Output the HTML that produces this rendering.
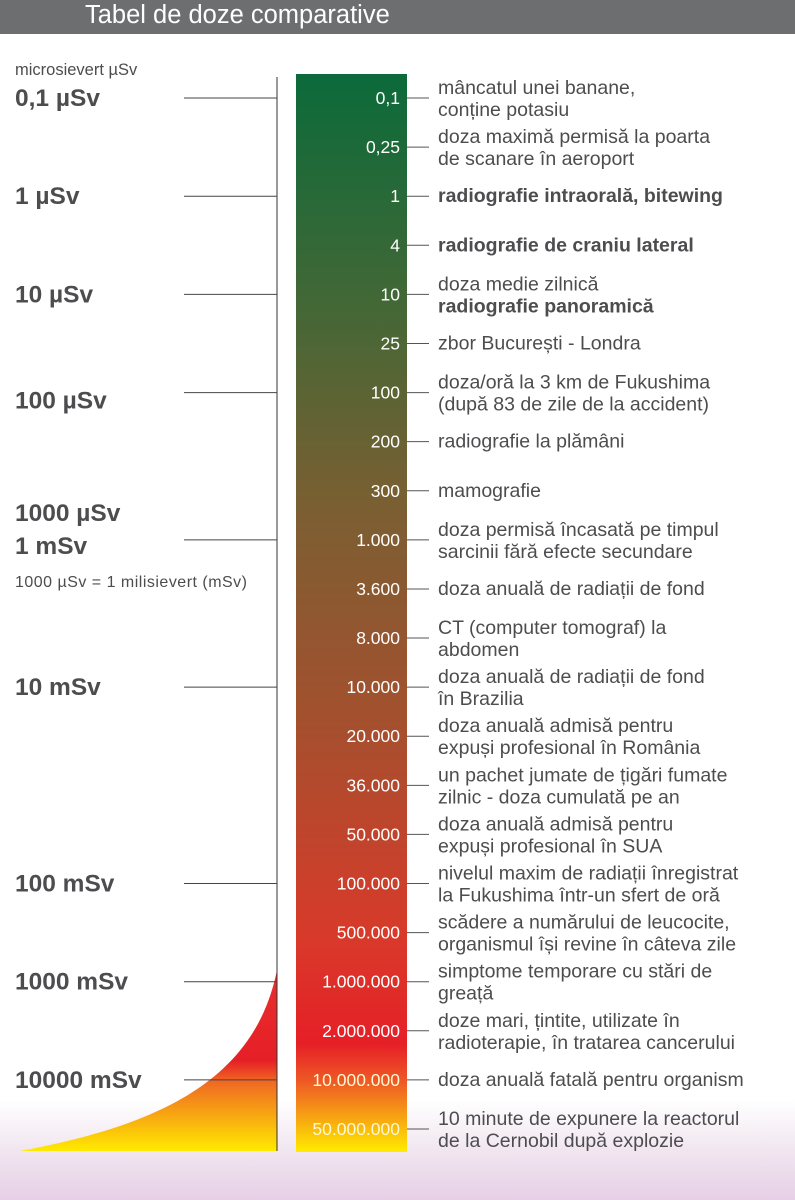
<!DOCTYPE html>
<html><head><meta charset="utf-8"><style>
body{margin:0;width:795px;height:1200px;overflow:hidden;background:#fff;font-family:"Liberation Sans",sans-serif;position:relative}
#bg{position:absolute;left:0;top:0;width:795px;height:1200px;background:linear-gradient(180deg,#fff 0,#fff 1100px,#f1e6f0 1150px,#e6d0e6 1200px)}
#hdr{position:absolute;left:0;top:0;width:795px;height:34px;background:#6d6e70}
#hdr span{position:absolute;left:85px;top:1px;color:#fff;font-size:25.5px}
</style></head><body>
<div id="bg"></div>
<div id="hdr"><span>Tabel de doze comparative</span></div>
<svg id="c" width="795" height="1200" style="position:absolute;left:0;top:0">
<defs>
<linearGradient id="bar" x1="0" y1="0" x2="0" y2="1">
<stop offset="0" stop-color="#0b6a3a"/><stop offset="0.2" stop-color="#3f6836"/>
<stop offset="0.4" stop-color="#7a5f32"/><stop offset="0.6" stop-color="#a4502e"/>
<stop offset="0.8" stop-color="#d83a2a"/><stop offset="0.9" stop-color="#e61f27"/>
<stop offset="0.935" stop-color="#ee5a25"/><stop offset="1" stop-color="#ffec00"/></linearGradient>
<linearGradient id="curve" x1="0" y1="0" x2="0" y2="1">
<stop offset="0" stop-color="#e8302c"/><stop offset="0.5" stop-color="#e61f27"/>
<stop offset="0.62" stop-color="#f06a22"/><stop offset="1" stop-color="#ffea00"/></linearGradient>
</defs>
<path d="M20 1151 C160 1125 255 1080 277 970 L277 1151 Z" fill="url(#curve)"/>
<rect x="296" y="74" width="111" height="1078" fill="url(#bar)"/>
<line x1="277" y1="77" x2="277" y2="1151" stroke="#333" stroke-width="1"/>
<g id="rows"></g>
<text x="15" y="75" font-size="16.5" fill="#4d4d4f">microsievert µSv</text>
<text x="15" y="587" font-size="16" fill="#4d4d4f" textLength="232">1000 µSv = 1 milisievert (mSv)</text>
<text x="15" y="521" font-size="24.5" font-weight="bold" fill="#4d4d4f">1000 µSv</text>
</svg>
<script>
const values=["0,1","0,25","1","4","10","25","100","200","300","1.000","3.600","8.000","10.000","20.000","36.000","50.000","100.000","500.000","1.000.000","2.000.000","10.000.000","50.000.000"];
const desc=[["mâncatul unei banane,","conține potasiu"],["doza maximă permisă la poarta","de scanare în aeroport"],["radiografie intraorală, bitewing"],["radiografie de craniu lateral"],["doza medie zilnică","radiografie panoramică"],["zbor București - Londra"],["doza/oră la 3 km de Fukushima","(după 83 de zile de la accident)"],["radiografie la plămâni"],["mamografie"],["doza permisă încasată pe timpul","sarcinii fără efecte secundare"],["doza anuală de radiații de fond"],["CT (computer tomograf) la","abdomen"],["doza anuală de radiații de fond","în Brazilia"],["doza anuală admisă pentru","expuși profesional în România"],["un pachet jumate de țigări fumate","zilnic - doza cumulată pe an"],["doza anuală admisă pentru","expuși profesional în SUA"],["nivelul maxim de radiații înregistrat","la Fukushima într-un sfert de oră"],["scădere a numărului de leucocite,","organismul își revine în câteva zile"],["simptome temporare cu stări de","greață"],["doze mari, țintite, utilizate în","radioterapie, în tratarea cancerului"],["doza anuală fatală pentru organism"],["10 minute de expunere la reactorul","de la Cernobil după explozie"]];
const boldLines=[[2,0],[3,0],[4,1]];
const leftLabels=["0,1 µSv","1 µSv","10 µSv","100 µSv","1 mSv","10 mSv","100 mSv","1000 mSv","10000 mSv"];
const leftRows=[0,2,4,6,9,12,16,18,20];
const ns="http://www.w3.org/2000/svg",g=document.getElementById('rows');
const y0=98,step=(1129-98)/21;
const rowY=i=>y0+i*step;
function mk(t,a){const e=document.createElementNS(ns,t);for(const k in a)e.setAttribute(k,a[k]);g.appendChild(e);return e;}
values.forEach((v,i)=>{
 const y=rowY(i);
 const n=mk('text',{x:400,y:y+6,'font-size':17.5,fill:i>=20?'#fff8d0':'#fff','text-anchor':'end'});n.textContent=v;
 
 
 const t=mk('line',{x1:407,x2:429,y1:y,y2:y,stroke:'#555','stroke-width':1});
 
 
 const L=desc[i],n2=L.length;
 L.forEach((s,j)=>{
  const ty=n2==1?y+6:y-4+j*22;
  const b=boldLines.some(p=>p[0]==i&&p[1]==j);
  const d=mk('text',{x:438,y:ty,'font-size':19.5,fill:'#4d4d4f','font-weight':b?'bold':'normal'});d.textContent=s;
  
  
 });
});
leftRows.forEach((r,k)=>{
 const y=rowY(r);
 const l=mk('line',{x1:184,x2:277,y1:y,y2:y,stroke:'#444','stroke-width':1});
 
 
 const ly=r==6?y+16:(r==9?y+14:y+8);
 const t=mk('text',{x:15,y:ly,'font-size':24.5,'font-weight':'bold',fill:'#4d4d4f'});t.textContent=leftLabels[k];
 
 
});
</script>
</body></html>
